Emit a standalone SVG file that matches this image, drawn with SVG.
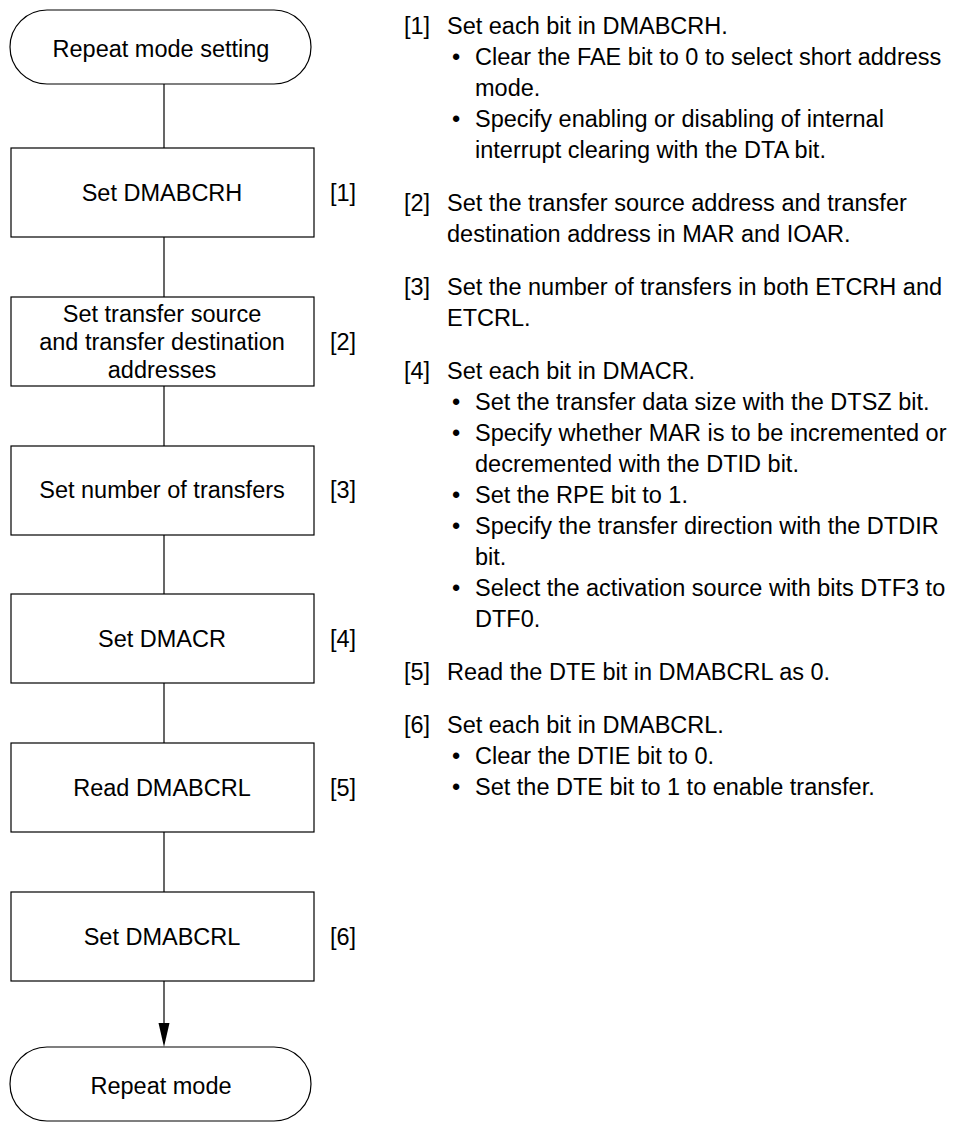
<svg xmlns="http://www.w3.org/2000/svg" width="957" height="1123" viewBox="0 0 957 1123">
<style>
text{font-family:"Liberation Sans",Arial,sans-serif;font-size:23.5px;fill:#000}
.c{text-anchor:middle}
.shape{fill:#fff;stroke:#000;stroke-width:1.2}
.ln{stroke:#000;stroke-width:1.2;fill:none}
.head{fill:#000}
</style>
<g id="connectors">
<line class="ln" x1="164" y1="84" x2="164" y2="148"/>
<line class="ln" x1="164" y1="237" x2="164" y2="297"/>
<line class="ln" x1="164" y1="386" x2="164" y2="446"/>
<line class="ln" x1="164" y1="535" x2="164" y2="594"/>
<line class="ln" x1="164" y1="683" x2="164" y2="743"/>
<line class="ln" x1="164" y1="832" x2="164" y2="892"/>
<line class="ln" x1="164" y1="981" x2="164" y2="1025"/>
<path class="head" d="M158.5,1023 L169.5,1023 L164,1047 Z"/>
</g>
<g id="start">
<rect class="shape" x="10" y="10" width="301" height="74" rx="37" ry="37"/>
<text class="c" x="161" y="57">Repeat mode setting</text>
</g>
<g id="step1">
<rect class="shape" x="11" y="148" width="303" height="89"/>
<text class="c" x="162" y="201">Set DMABCRH</text>
<text x="330" y="201">[1]</text>
</g>
<g id="step2">
<rect class="shape" x="11" y="297" width="303" height="89"/>
<text class="c" x="162" y="322">Set transfer source</text>
<text class="c" x="162" y="350">and transfer destination</text>
<text class="c" x="162" y="378">addresses</text>
<text x="330" y="350">[2]</text>
</g>
<g id="step3">
<rect class="shape" x="11" y="446" width="303" height="89"/>
<text class="c" x="162" y="498">Set number of transfers</text>
<text x="330" y="498">[3]</text>
</g>
<g id="step4">
<rect class="shape" x="11" y="594" width="303" height="89"/>
<text class="c" x="162" y="647">Set DMACR</text>
<text x="330" y="647">[4]</text>
</g>
<g id="step5">
<rect class="shape" x="11" y="743" width="303" height="89"/>
<text class="c" x="162" y="796">Read DMABCRL</text>
<text x="330" y="796">[5]</text>
</g>
<g id="step6">
<rect class="shape" x="11" y="892" width="303" height="89"/>
<text class="c" x="162" y="945">Set DMABCRL</text>
<text x="330" y="945">[6]</text>
</g>
<g id="end">
<rect class="shape" x="10" y="1047" width="301" height="74" rx="37" ry="37"/>
<text class="c" x="161" y="1094">Repeat mode</text>
</g>
<g id="notes">
<text x="404" y="34">[1]</text><text x="447" y="34">Set each bit in DMABCRH.</text>
<text x="452" y="65">•</text><text x="475" y="65">Clear the FAE bit to 0 to select short address</text>
<text x="475" y="96">mode.</text>
<text x="452" y="127">•</text><text x="475" y="127">Specify enabling or disabling of internal</text>
<text x="475" y="158">interrupt clearing with the DTA bit.</text>
<text x="404" y="211">[2]</text><text x="447" y="211">Set the transfer source address and transfer</text>
<text x="447" y="242">destination address in MAR and IOAR.</text>
<text x="404" y="295">[3]</text><text x="447" y="295">Set the number of transfers in both ETCRH and</text>
<text x="447" y="326">ETCRL.</text>
<text x="404" y="379">[4]</text><text x="447" y="379">Set each bit in DMACR.</text>
<text x="452" y="410">•</text><text x="475" y="410">Set the transfer data size with the DTSZ bit.</text>
<text x="452" y="441">•</text><text x="475" y="441">Specify whether MAR is to be incremented or</text>
<text x="475" y="472">decremented with the DTID bit.</text>
<text x="452" y="503">•</text><text x="475" y="503">Set the RPE bit to 1.</text>
<text x="452" y="534">•</text><text x="475" y="534">Specify the transfer direction with the DTDIR</text>
<text x="475" y="565">bit.</text>
<text x="452" y="596">•</text><text x="475" y="596">Select the activation source with bits DTF3 to</text>
<text x="475" y="627">DTF0.</text>
<text x="404" y="680">[5]</text><text x="447" y="680">Read the DTE bit in DMABCRL as 0.</text>
<text x="404" y="733">[6]</text><text x="447" y="733">Set each bit in DMABCRL.</text>
<text x="452" y="764">•</text><text x="475" y="764">Clear the DTIE bit to 0.</text>
<text x="452" y="795">•</text><text x="475" y="795">Set the DTE bit to 1 to enable transfer.</text>
</g>
</svg>
